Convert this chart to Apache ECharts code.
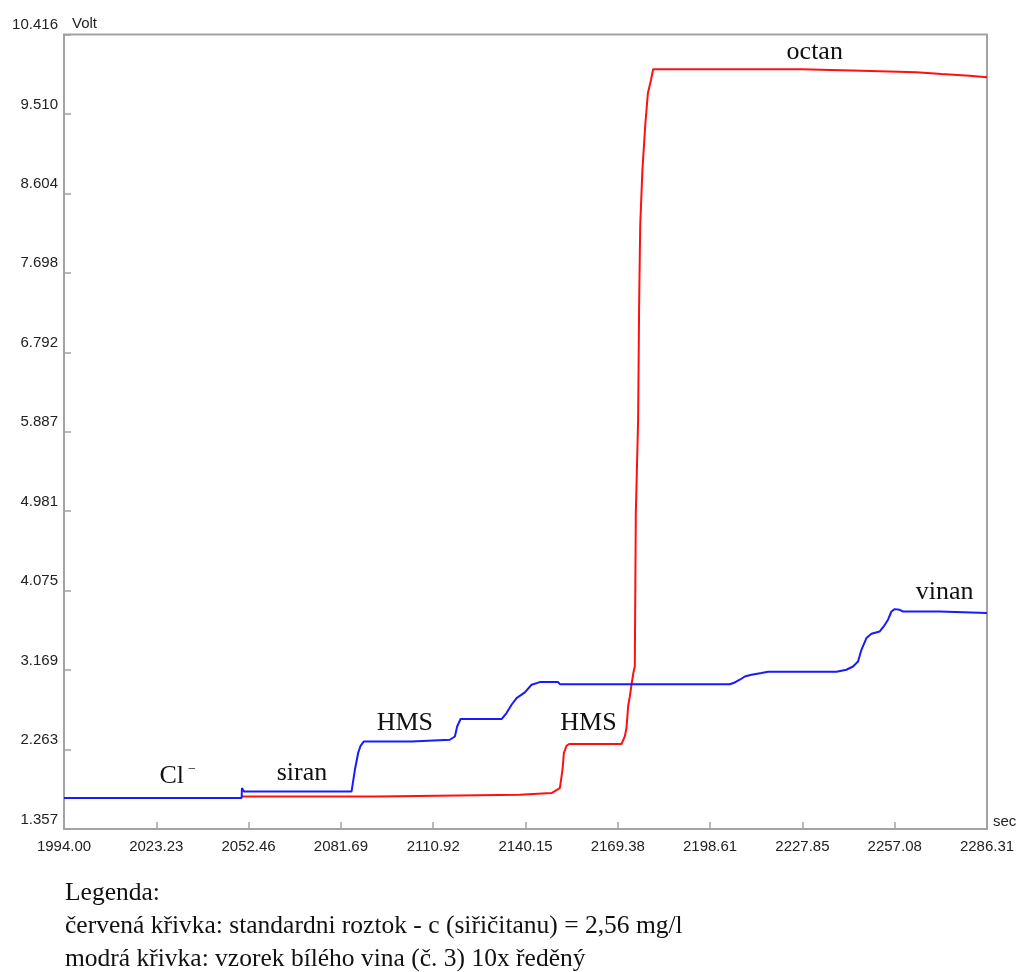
<!DOCTYPE html>
<html>
<head>
<meta charset="utf-8">
<script src="https://cdn.jsdelivr.net/npm/echarts@6/dist/echarts.min.js"></script>
<style>
html,body{margin:0;padding:0;background:#fff;}
#chart{width:1019px;height:972px;}
</style>
</head>
<body>
<div id="chart"></div>
<script>
// Tick labels
const xTickLabels = ['1994.00','2023.23','2052.46','2081.69','2110.92','2140.15','2169.38','2198.61','2227.85','2257.08','2286.31'];
const yTickLabels = ['1.357','2.263','3.169','4.075','4.981','5.887','6.792','7.698','8.604','9.510','10.416'];

// Blue curve: sample of white wine (time in s, voltage in V)
const blueTime = [1994.00,2050.26,2050.35,2050.99,2085.08,2086.13,2087.17,2087.93,2088.97,2104.08,2104.17,2116.20,2117.79,2118.51,2119.59,2132.57,2134.15,2135.74,2137.32,2139.95,2142.07,2144.70,2150.49,2151.03,2204.85,2206.43,2208.02,2209.60,2211.72,2214.89,2216.97,2238.63,2241.79,2243.88,2245.47,2246.54,2248.13,2249.71,2252.34,2253.60,2254.96,2256.04,2257.08,2258.67,2259.71,2271.33,2271.65,2286.31];
const blueVolt = [1.710,1.710,1.824,1.785,1.785,2.033,2.226,2.306,2.355,2.355,2.375,2.375,2.412,2.526,2.611,2.611,2.679,2.774,2.850,2.914,3.002,3.032,3.032,3.008,3.008,3.028,3.059,3.096,3.116,3.135,3.150,3.150,3.173,3.210,3.267,3.400,3.534,3.583,3.609,3.666,3.743,3.837,3.864,3.856,3.837,3.837,3.819,3.819];

// Red curve: standard solution
const redTime = [2050.26,2093.00,2093.41,2138.36,2138.68,2148.40,2148.91,2151.03,2151.88,2152.30,2153.15,2153.97,2170.56,2171.60,2172.14,2172.65,2173.19,2173.73,2174.30,2174.77,2175.09,2175.82,2176.13,2176.48,2177.18,2178.13,2178.92,2179.90,2180.57,2227.55,2227.64,2246.54,2246.64,2263.96,2264.05,2271.87,2271.97,2280.83,2280.92,2286.31];
const redVolt = [1.728,1.728,1.748,1.748,1.767,1.767,1.785,1.824,2.033,2.223,2.306,2.326,2.326,2.412,2.508,2.754,2.868,3.002,3.135,3.210,4.951,6.022,7.299,8.233,8.872,9.407,9.749,9.897,10.019,10.019,10.003,10.003,9.985,9.985,9.966,9.966,9.946,9.946,9.928,9.928];

// Annotations
const annoNames = ['Cl⁻','siran','HMS','HMS','octan','vinan'];
const annoTime = [2030.0,2069.35,2101.96,2160.11,2231.76,2272.92];
const annoVolt = [1.964,1.998,2.565,2.565,10.209,4.058];

const legendLines = ['Legenda:','červená křivka: standardni roztok - c (siřičitanu) = 2,56 mg/l','modrá křivka: vzorek bílého vina (č. 3) 10x ředěný'];

function zip(a,b){return a.map((v,i)=>[v,b[i]]);}
function nearestLabel(labels, v){
  let best = labels[0], d = Infinity;
  labels.forEach(l => { const dd = Math.abs(parseFloat(l) - v); if (dd < d) { d = dd; best = l; } });
  return best;
}
const xMin = parseFloat(xTickLabels[0]), xMax = parseFloat(xTickLabels[xTickLabels.length-1]);
const yMin = parseFloat(yTickLabels[0]), yMax = parseFloat(yTickLabels[yTickLabels.length-1]);

const axisGray = '#a3a3a3';
const textCol = '#222';
const serif = '"Liberation Serif", "Times New Roman", serif';
const sans = '"Liberation Sans", Arial, sans-serif';

const chart = echarts.init(document.getElementById('chart'), null, {renderer:'canvas'});
chart.setOption({
  animation: false,
  backgroundColor: '#fff',
  grid: {left: 64, right: 32, top: 34.5, bottom: 143, containLabel: false, outerBoundsMode: 'none',
         show: true, borderColor: axisGray, borderWidth: 2, backgroundColor: 'transparent'},
  xAxis: {
    type: 'value', min: xMin, max: xMax, interval: (xMax - xMin) / (xTickLabels.length - 1),
    name: 'sec', nameLocation: 'end', nameGap: 6,
    nameTextStyle: {color: textCol, fontFamily: sans, fontSize: 15, align: 'left', verticalAlign: 'bottom', padding: [0,0,0,0]},
    axisLine: {show: true, lineStyle: {color: axisGray, width: 2}},
    axisTick: {show: true, inside: true, length: 7, lineStyle: {color: axisGray, width: 1.5}},
    splitLine: {show: false},
    axisLabel: {show: true, margin: 10, color: textCol, fontFamily: sans, fontSize: 15,
      showMinLabel: true, showMaxLabel: true, hideOverlap: false,
      formatter: v => nearestLabel(xTickLabels, v)}
  },
  yAxis: {
    type: 'value', min: yMin, max: yMax, interval: (yMax - yMin) / (yTickLabels.length - 1),
    name: 'Volt', nameLocation: 'end', nameGap: 10.5,
    nameTextStyle: {color: textCol, fontFamily: sans, fontSize: 15, align: 'left', verticalAlign: 'middle', padding: [0,0,0,8]},
    axisLine: {show: true, lineStyle: {color: axisGray, width: 2}},
    axisTick: {show: true, inside: true, length: 7, lineStyle: {color: axisGray, width: 1.5}},
    splitLine: {show: false},
    axisLabel: {show: true, margin: 6, color: textCol, fontFamily: sans, fontSize: 15,
      verticalAlign: 'bottom', padding: [0,0,2,0],
      showMinLabel: true, showMaxLabel: true, hideOverlap: false,
      formatter: v => nearestLabel(yTickLabels, v)}
  },
  series: [
    {
      name: 'standard', type: 'line', data: zip(redTime, redVolt), showSymbol: false, symbol: 'none',
      lineStyle: {color: '#ff1010', width: 2}, itemStyle: {color: '#ff1010'}, z: 2
    },
    {
      name: 'vzorek', type: 'line', data: zip(blueTime, blueVolt), showSymbol: false, symbol: 'none',
      lineStyle: {color: '#1a1aff', width: 2}, itemStyle: {color: '#1a1aff'}, z: 3,
      markPoint: {
        symbol: 'circle', symbolSize: 0, silent: true,
        label: {
          show: true, position: 'inside', color: '#111',
          formatter: p => p.name === 'Cl⁻' ? '{m|Cl}{s|−}' : '{m|' + p.name + '}',
          rich: {
            m: {fontFamily: serif, fontSize: 26, color: '#111'},
            s: {fontFamily: serif, fontSize: 14, color: '#111', verticalAlign: 'top', padding: [0,0,0,4]}
          }
        },
        data: annoNames.map((n,i) => ({name: n, coord: [annoTime[i], annoVolt[i]]}))
      }
    }
  ],
  graphic: legendLines.map((t,i) => ({
    type: 'text', left: 65, top: 880 + i * 33, silent: true,
    style: {text: t, fill: '#111', font: '25.5px ' + serif}
  }))
});
</script>
</body>
</html>
